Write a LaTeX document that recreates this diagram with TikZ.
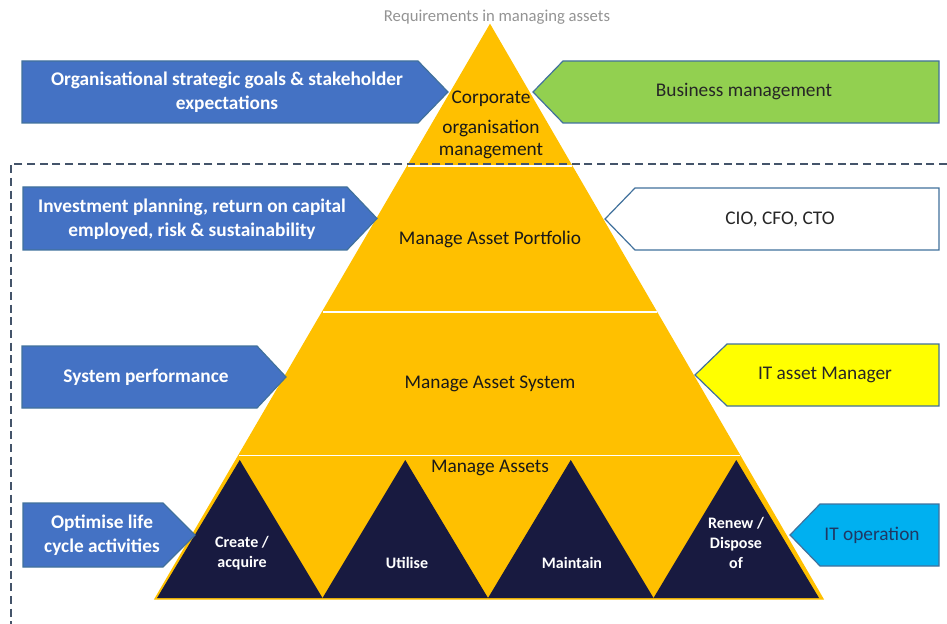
\documentclass[tikz,border=0pt]{standalone}
\usepackage{fontspec}
\setmainfont{Carlito}
\usetikzlibrary{calc}

\definecolor{gold}{HTML}{FFC000}
\definecolor{navy}{HTML}{181A40}
\definecolor{tagblue}{HTML}{4472C4}
\definecolor{tagline}{HTML}{41719C}
\definecolor{taggreen}{HTML}{92D050}
\definecolor{tagyellow}{HTML}{FFFF00}
\definecolor{tagcyan}{HTML}{00B0F0}
\definecolor{dashgray}{HTML}{44546A}
\definecolor{darktext}{HTML}{1F3864}

% #1 style, #2 flat end, #3 shoulder, #4 tip, #5 top, #6 bottom
\newcommand{\tagshape}[6]{\draw[#1] (#2,#5) -- (#3,#5) -- (#4,{(#5+#6)/2}) -- (#3,#6) -- (#2,#6) -- cycle;}

\begin{document}
\begin{tikzpicture}[x=0.75pt,y=-0.75pt]

\tikzstyle{tag} = [draw=tagline, line width=0.9pt]
\tikzstyle{lefttext} = [text=white, font=\fontsize{14.5}{18}\selectfont\bfseries, align=center]
\tikzstyle{righttext} = [text=black!85, font=\fontsize{14.5}{18}\selectfont, align=center]
\tikzstyle{level} = [text=black!90, font=\fontsize{14.5}{18}\selectfont, align=center]
\tikzstyle{stage} = [text=white, font=\fontsize{12}{15}\selectfont\bfseries, align=center]

\useasboundingbox (0,0) rectangle (947,624);

\coordinate (apex) at (490,25);
\coordinate (bl) at (155,599);
\coordinate (br) at (823,599);

\filldraw[gold, line width=1pt] (apex) -- (br) -- (bl) -- cycle;
\foreach \t in {0.246,0.5,0.75}
  \draw[white, line width=1.1pt] ($(apex)!\t!(bl)$) -- ($(apex)!\t!(br)$);

\foreach \i in {0,...,3}
  \fill[navy] ({157+165.5*\i},598) -- ({239.75+165.5*\i},460) -- ({322.5+165.5*\i},598) -- cycle;

\node[text=gray!85, font=\fontsize{12.5}{15}\selectfont] (title) at (497,17) {Requirements in managing assets};

\node[level, font=\fontsize{14.5}{16.5}\selectfont] (corporate) at (491,125) {Corporate\\[6pt]organisation\\management};
\node[level] (portfolio) at (490,239) {Manage Asset Portfolio};
\node[level] (system) at (490,384) {Manage Asset System};
\node[level] (assets) at (490,468) {Manage Assets};

\node[stage] (create) at (242,553) {Create /\\acquire};
\node[stage] (utilise) at (407,563) {Utilise};
\node[stage] (maintain) at (572,563) {Maintain};
\node[stage] (renew) at (736,543) {Renew /\\Dispose\\of};

\draw[dashgray, dashed, dash pattern=on 6pt off 3.5pt, line width=0.8pt] (947,164) -- (11,164) -- (11,624);

\tagshape{tag, fill=tagblue}{22}{418}{448}{61}{123}
\node[lefttext] (goals) at (227,92) {Organisational strategic goals \& stakeholder\\expectations};
\tagshape{tag, fill=taggreen}{939}{563}{533}{61}{123}
\node[righttext] (business) at (744,92) {Business management};

\tagshape{tag, fill=tagblue}{23}{347}{377}{187}{250}
\node[lefttext] (investment) at (192,219) {Investment planning, return on capital\\employed, risk \& sustainability};
\tagshape{tag, fill=white}{939}{635}{605}{188}{250}
\node[righttext] (chiefs) at (780,219) {CIO, CFO, CTO};

\tagshape{tag, fill=tagblue}{22}{257}{286}{346}{408}
\node[lefttext] (performance) at (146,377) {System performance};
\tagshape{tag, fill=tagyellow}{939}{727}{695}{344}{406}
\node[righttext] (itmanager) at (825,375) {IT asset Manager};

\tagshape{tag, fill=tagblue}{23}{163}{195}{503}{567}
\node[lefttext] (lifecycle) at (102,535) {Optimise life\\cycle activities};
\tagshape{tag, fill=tagcyan}{939}{820}{790}{504}{566}
\node[righttext, text=darktext] (itoperation) at (872,535) {IT operation};

\end{tikzpicture}
\end{document}
